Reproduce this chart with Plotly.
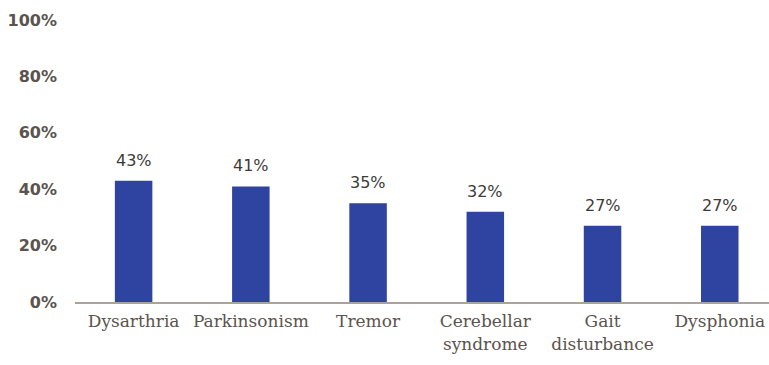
import plotly.graph_objects as go

# Share of patients presenting each neurological feature
categories = ["Dysarthria", "Parkinsonism", "Tremor",
              "Cerebellar<br>syndrome", "Gait<br>disturbance", "Dysphonia"]
values = [0.43, 0.41, 0.35, 0.32, 0.27, 0.27]
value_labels = ["43%", "41%", "35%", "32%", "27%", "27%"]
y_ticks = [0, 0.2, 0.4, 0.6, 0.8, 1.0]
y_tick_labels = ["0%", "20%", "40%", "60%", "80%", "100%"]

bar_color = "#2f43a1"
label_color = "#3d3a38"
axis_text = "#5b534d"

fig = go.Figure()
fig.add_trace(go.Bar(
    x=list(range(len(categories))),
    y=values,
    width=0.32,
    marker=dict(color=bar_color, line=dict(width=0)),
    hoverinfo="skip",
))

# value labels above each bar
for i, (v, t) in enumerate(zip(values, value_labels)):
    fig.add_annotation(
        x=i, y=v, text=t, showarrow=False, yanchor="bottom", yshift=9,
        font=dict(family="DejaVu Sans, sans-serif", size=16, color=label_color),
    )

fig.update_layout(
    width=769, height=365,
    margin=dict(l=75, r=0, t=20, b=63),
    plot_bgcolor="white", paper_bgcolor="white",
    showlegend=False,
)
fig.update_xaxes(
    range=[-0.5, 5.42],
    tickmode="array",
    tickvals=list(range(len(categories))),
    ticktext=categories,
    showgrid=False, zeroline=False,
    showline=True, linecolor="#aaa29c", linewidth=2,
    ticks="", ticklabelstandoff=3,
    tickfont=dict(family="DejaVu Serif, serif", size=17, color=axis_text),
)
fig.update_yaxes(
    range=[0, 1],
    tickmode="array",
    tickvals=y_ticks,
    ticktext=y_tick_labels,
    showgrid=False, zeroline=False, showline=False,
    ticks="", ticklabelstandoff=17,
    tickfont=dict(family="DejaVu Sans, sans-serif", size=16, color=axis_text,
                  weight="bold"),
)

fig.write_html("out.html")
